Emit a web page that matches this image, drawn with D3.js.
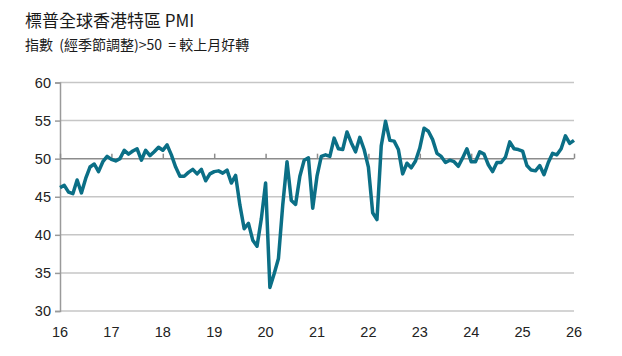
<!DOCTYPE html>
<html><head><meta charset="utf-8">
<script src="https://cdn.jsdelivr.net/npm/d3@7"></script>
<style>body{margin:0;background:#fff}svg{display:block}</style>
</head><body>
<script>
const title = "標普全球香港特區 PMI";
const subtitle = "指數  (經季節調整)>50  = 較上月好轉";
const startYear = 2016;
const yTicks = [30, 35, 40, 45, 50, 55, 60];
const xTickYears = [16, 17, 18, 19, 20, 21, 22, 23, 24, 25, 26];
// monthly values, Jan 2016 .. Jan 2026
const pmi = [
  46.2, 46.5, 45.6, 45.4, 47.2, 45.5, 47.4, 48.9, 49.3, 48.3, 49.6, 50.3,
  49.9, 49.7, 50.0, 51.1, 50.6, 51.0, 51.3, 49.8, 51.1, 50.4, 50.9, 51.5,
  51.1, 51.8, 50.5, 48.9, 47.7, 47.7, 48.2, 48.6, 48.0, 48.6, 47.1, 48.0,
  48.3, 48.4, 48.1, 48.5, 46.8, 47.8, 43.9, 40.8, 41.5, 39.3, 38.5, 42.1,
  46.8, 33.1, 34.9, 36.9, 43.9, 49.6, 44.5, 44.0, 47.7, 49.8, 50.1, 43.5,
  47.7, 50.3, 50.5, 50.3, 52.7, 51.3, 51.2, 53.5, 52.1, 50.9, 52.8, 51.2,
  48.9, 42.9, 42.0, 51.7, 54.9, 52.4, 52.3, 51.2, 48.0, 49.4, 48.8, 49.7,
  51.4, 54.0, 53.6, 52.5, 50.7, 50.3, 49.5, 49.8, 49.6, 49.0, 50.1, 51.3,
  49.6, 49.6, 50.9, 50.6, 49.2, 48.3, 49.5, 49.5, 50.2, 52.2, 51.3, 51.2,
  51.0, 49.1, 48.5, 48.4, 49.1, 47.9, 49.5, 50.7, 50.5, 51.3, 53.0, 52.0,
  52.4
];

const W = 622, H = 356;
const svg = d3.select("body").append("svg").attr("width", W).attr("height", H);
const mLeft = 60, mRight = 574, mTop = 82.5, mBottom = 311;

const x = d3.scaleLinear().domain([0, 120]).range([mLeft, mRight]);
const y = d3.scaleLinear().domain([30, 60]).range([mBottom, mTop]);

svg.append("text").attr("x", 25).attr("y", 27)
  .attr("font-family", "'Noto Sans CJK TC','Noto Sans',sans-serif")
  .attr("font-size", 17).attr("fill", "#1a1a1a").text(title);
svg.append("text").attr("x", 25).attr("y", 50)
  .attr("font-family", "'Noto Sans CJK TC','Noto Sans',sans-serif")
  .attr("font-size", 14).attr("fill", "#1a1a1a")
  .style("white-space","pre").text(subtitle);

// grid lines
svg.append("g").selectAll("line").data(yTicks).join("line")
  .attr("x1", mLeft).attr("x2", mRight)
  .attr("y1", d => y(d)).attr("y2", d => y(d))
  .attr("stroke", d => d === 50 ? "#8c8c8c" : "#c6c6c6")
  .attr("stroke-width", 1.5);

// y axis
const yAxis = d3.axisLeft(y).tickValues(yTicks).tickSize(5).tickPadding(4);
const gy = svg.append("g").attr("transform", `translate(${mLeft},0)`).call(yAxis);
gy.select(".domain").attr("stroke", "#9a9a9a").attr("stroke-width", 1.5);
gy.selectAll(".tick line").attr("stroke", "#9a9a9a").attr("stroke-width", 1.5);
gy.selectAll(".tick text").attr("font-family", "'Liberation Sans',Arial,sans-serif")
  .attr("font-size", 14.5).attr("fill", "#222");

// x axis ticks at the 50 line, labels at bottom
const xAxis = d3.axisTop(x).tickValues(xTickYears.map((d, i) => i * 12)).tickSize(5).tickFormat("");
const gx = svg.append("g").attr("transform", `translate(0,${y(50)})`).call(xAxis);
gx.select(".domain").remove();
gx.selectAll(".tick line").attr("stroke", "#8c8c8c").attr("stroke-width", 1.5);

svg.append("g").selectAll("text").data(xTickYears).join("text")
  .attr("x", (d, i) => x(i * 12)).attr("y", 337)
  .attr("text-anchor", "middle")
  .attr("font-family", "'Liberation Sans',Arial,sans-serif")
  .attr("font-size", 14.5).attr("fill", "#222").text(d => d);

// line
const line = d3.line().x((d, i) => x(i)).y(d => y(d));
svg.append("path").datum(pmi).attr("d", line)
  .attr("fill", "none").attr("stroke", "#0b6f86").attr("stroke-width", 3.5)
  .attr("stroke-linejoin", "round").attr("stroke-linecap", "butt");
</script>
</body></html>
